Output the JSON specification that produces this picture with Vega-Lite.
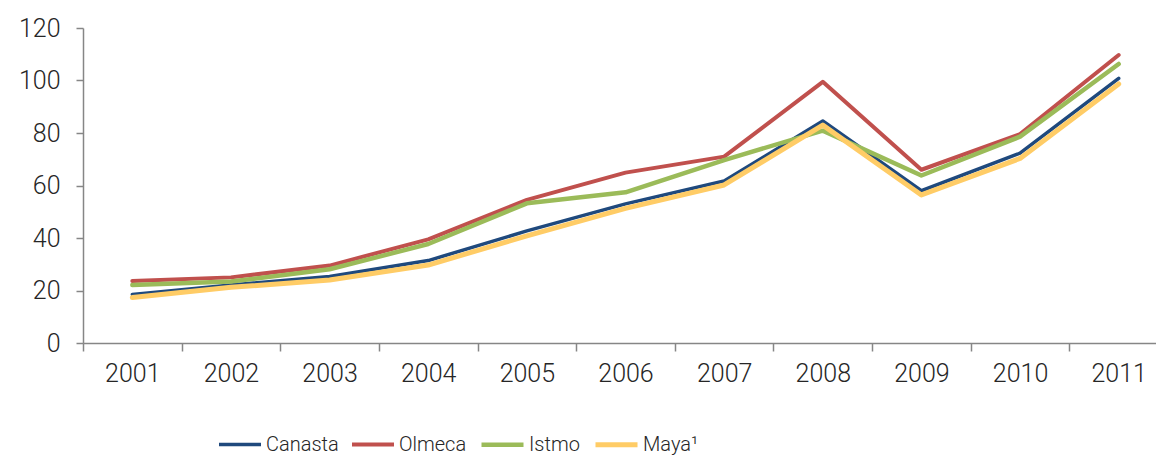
{
  "$schema": "https://vega.github.io/schema/vega-lite/v6.json",
  "autosize": "none",
  "padding": {"left": 83, "top": 28, "right": 0, "bottom": 113},
  "width": 1085,
  "height": 315,
  "background": "white",
  "config": {"view": {"stroke": null}},
  "data": {"values": [
    {"year": "2001", "series": "Canasta", "v": 18.5},
    {"year": "2002", "series": "Canasta", "v": 22.1},
    {"year": "2003", "series": "Canasta", "v": 25.3},
    {"year": "2004", "series": "Canasta", "v": 31.4},
    {"year": "2005", "series": "Canasta", "v": 42.7},
    {"year": "2006", "series": "Canasta", "v": 53.0},
    {"year": "2007", "series": "Canasta", "v": 61.7},
    {"year": "2008", "series": "Canasta", "v": 84.6},
    {"year": "2009", "series": "Canasta", "v": 58.0},
    {"year": "2010", "series": "Canasta", "v": 72.3},
    {"year": "2011", "series": "Canasta", "v": 100.8},
    {"year": "2001", "series": "Olmeca", "v": 23.6},
    {"year": "2002", "series": "Olmeca", "v": 25.0},
    {"year": "2003", "series": "Olmeca", "v": 29.5},
    {"year": "2004", "series": "Olmeca", "v": 39.5},
    {"year": "2005", "series": "Olmeca", "v": 54.5},
    {"year": "2006", "series": "Olmeca", "v": 64.9},
    {"year": "2007", "series": "Olmeca", "v": 71.0},
    {"year": "2008", "series": "Olmeca", "v": 99.5},
    {"year": "2009", "series": "Olmeca", "v": 66.0},
    {"year": "2010", "series": "Olmeca", "v": 79.6},
    {"year": "2011", "series": "Olmeca", "v": 109.7},
    {"year": "2001", "series": "Istmo", "v": 22.1},
    {"year": "2002", "series": "Istmo", "v": 23.4},
    {"year": "2003", "series": "Istmo", "v": 28.1},
    {"year": "2004", "series": "Istmo", "v": 37.7},
    {"year": "2005", "series": "Istmo", "v": 53.2},
    {"year": "2006", "series": "Istmo", "v": 57.4},
    {"year": "2007", "series": "Istmo", "v": 69.7},
    {"year": "2008", "series": "Istmo", "v": 80.9},
    {"year": "2009", "series": "Istmo", "v": 63.8},
    {"year": "2010", "series": "Istmo", "v": 78.6},
    {"year": "2011", "series": "Istmo", "v": 106.3},
    {"year": "2001", "series": "Maya¹", "v": 17.3},
    {"year": "2002", "series": "Maya¹", "v": 21.2},
    {"year": "2003", "series": "Maya¹", "v": 24.0},
    {"year": "2004", "series": "Maya¹", "v": 29.7},
    {"year": "2005", "series": "Maya¹", "v": 40.8},
    {"year": "2006", "series": "Maya¹", "v": 51.3},
    {"year": "2007", "series": "Maya¹", "v": 60.2},
    {"year": "2008", "series": "Maya¹", "v": 83.0},
    {"year": "2009", "series": "Maya¹", "v": 56.4},
    {"year": "2010", "series": "Maya¹", "v": 70.3},
    {"year": "2011", "series": "Maya¹", "v": 98.7}
  ]},
  "mark": {"type": "line", "strokeCap": "round", "strokeJoin": "round"},
  "encoding": {
    "x": {
      "field": "year", "type": "ordinal", "bandPosition": 0.5,
      "scale": {"type": "band", "paddingInner": 0, "paddingOuter": 0},
      "axis": {
        "title": null, "labelAngle": 0, "tickBand": "extent", "grid": false,
        "domainColor": "#868686", "domainWidth": 1.5, "tickColor": "#868686", "tickWidth": 1.5, "tickSize": 8,
        "labelFont": "Roboto", "labelFontWeight": 300, "labelFontSize": 25, "labelColor": "#262626", "labelPadding": 10
      }
    },
    "y": {
      "field": "v", "type": "quantitative",
      "scale": {"domain": [0, 120], "nice": false},
      "axis": {
        "title": null, "values": [0, 20, 40, 60, 80, 100, 120], "grid": false,
        "domainColor": "#868686", "domainWidth": 1.5, "tickColor": "#868686", "tickWidth": 1.5, "tickSize": 7,
        "labelFont": "Roboto", "labelFontWeight": 300, "labelFontSize": 25, "labelColor": "#262626", "labelPadding": 16
      }
    },
    "color": {
      "field": "series", "type": "nominal",
      "scale": {"domain": ["Canasta", "Olmeca", "Istmo", "Maya¹"], "range": ["#1F497D", "#C0504D", "#9BBB59", "#FFCC66"]},
      "legend": {
        "title": null, "orient": "none", "direction": "horizontal", "legendX": 134, "legendY": 393,
        "symbolType": "stroke", "symbolSize": 1764, "symbolStrokeWidth": 5,
        "labelFont": "Roboto", "labelFontWeight": 300, "labelFontSize": 20, "labelColor": "#262626",
        "labelOffset": 3, "columnPadding": 5
      }
    },
    "strokeWidth": {
      "field": "series", "type": "nominal",
      "scale": {"domain": ["Canasta", "Olmeca", "Istmo", "Maya¹"], "range": [3.5, 5, 5.5, 5]},
      "legend": null
    }
  }
}
